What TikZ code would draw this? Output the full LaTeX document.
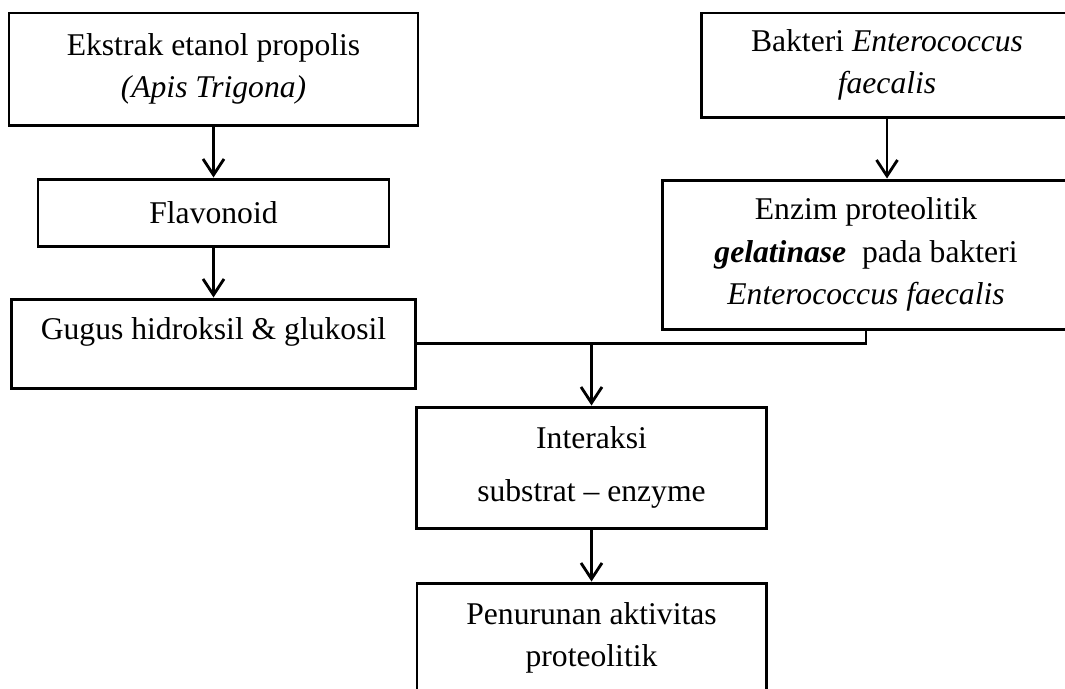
\documentclass[tikz,border=0pt]{standalone}
\usepackage{fontspec}
\setmainfont{Liberation Serif}
\usepackage{tikz}
\usetikzlibrary{arrows.meta}
\tikzstyle{box} = [rectangle, draw=black, line width=1.7pt, inner sep=0pt, align=center, font=\fontsize{18}{24}\selectfont]
\tikzstyle{line} = [line width=1.6pt]
\tikzstyle{arrow} = [line width=1.6pt, -{Straight Barb[length=0.32cm, width=0.42cm, line width=1.6pt]}]

\begin{document}
\begin{tikzpicture}[node distance=2cm]
      \useasboundingbox (0,0) rectangle (21.3,-13.76);
      \node (ekstrak) [box, minimum width=8.18cm, minimum height=2.24cm] at (4.27,-1.38) {Ekstrak etanol propolis\\\textit{(Apis Trigona)}};
      \node (flav) [box, below of=ekstrak, yshift=-0.87cm, minimum width=7.02cm, minimum height=1.34cm] {Flavonoid};
      \draw [arrow] (ekstrak) -- (flav);
      \node (gugus) [box, below of=flav, yshift=-0.62cm, minimum width=8.08cm, minimum height=1.78cm] {Gugus hidroksil \& glukosil\\[-14pt]\strut};
      \draw [arrow] (flav) -- (gugus);
      \node (bakteri) [box, minimum width=7.44cm, minimum height=2.08cm] at (17.74,-1.30) {Bakteri \textit{Enterococcus}\\\textit{faecalis}};
      \node (enzim) [box, below of=bakteri, xshift=-0.42cm, yshift=-1.79cm, minimum width=8.16cm, minimum height=2.98cm] {Enzim proteolitik\\\textbf{\textit{gelatinase}}\ \ pada bakteri\\\textit{Enterococcus faecalis}};
      \draw [arrow] (bakteri) -- (bakteri |- enzim.north);
      \draw [line] (enzim.south) |- (gugus.east);
      \node (interaksi) [box, below of=gugus, xshift=7.56cm, yshift=-0.48cm, minimum width=7.0cm, minimum height=2.42cm] {Interaksi\\[6pt]substrat -- enzyme};
      \draw [arrow] (interaksi.north |- gugus.east) -- (interaksi);
      \node (turun) [box, below of=interaksi, yshift=-1.41cm, minimum width=6.98cm, minimum height=2.2cm] {Penurunan aktivitas\\proteolitik};
      \draw [arrow] (interaksi) -- (turun);
    \end{tikzpicture}
\end{document}
